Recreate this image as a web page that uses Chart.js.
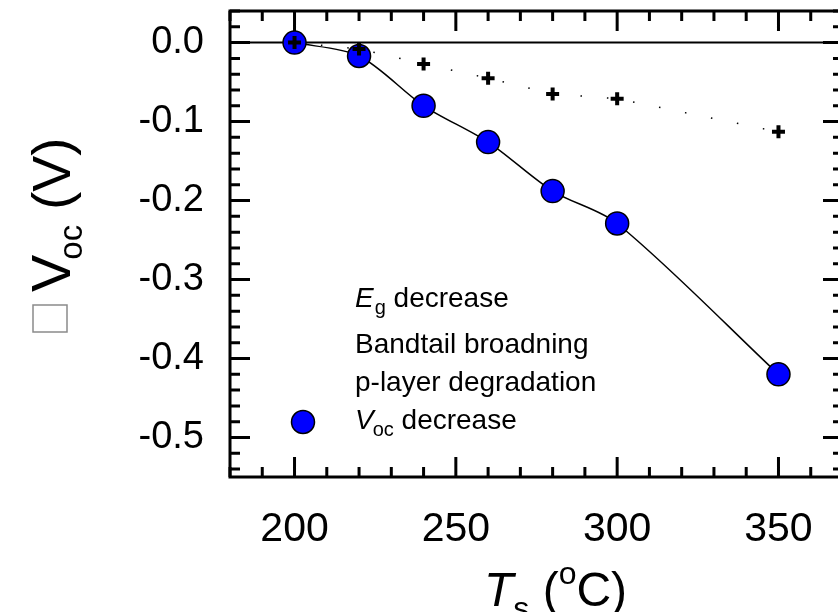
<!DOCTYPE html>
<html>
<head>
<meta charset="utf-8">
<script src="https://cdn.jsdelivr.net/npm/chart.js@4.4.1/dist/chart.umd.min.js"></script>
<style>
  html, body { margin: 0; padding: 0; background: #fff; overflow: hidden; }
  #wrap { width: 850px; height: 612px; }
  canvas { display: block; width: 850px; height: 612px; }
</style>
</head>
<body>
<div id="wrap"><canvas id="myChart" width="850" height="612"></canvas></div>
<script>
// substrate temperature Ts (oC)
const temps = [200, 220, 240, 260, 280, 300, 350];
// delta Voc, blue circles (V)
const vocDecrease = [0.0, -0.017, -0.080, -0.126, -0.188, -0.229, -0.420];
// black crosses on the dotted line (V)
const crossValues = [0.0, -0.008, -0.027, -0.045, -0.065, -0.071, -0.113];

const xTicks = [200, 250, 300, 350];
const yTicks = [0.0, -0.1, -0.2, -0.3, -0.4, -0.5];

const FONT = "'Liberation Sans', Arial, sans-serif";

const pts = (vals) => temps.map((t, i) => ({ x: t, y: vals[i] }));

// draw a row of text pieces, each with its own font and baseline shift
const runs = (ctx, x, y, parts) => {
  parts.forEach((p) => {
    ctx.font = p.font;
    x += p.dx || 0;
    ctx.fillText(p.t, x, y + (p.dy || 0));
    x += ctx.measureText(p.t).width;
  });
};

const frame = {
  id: "frame",
  beforeDatasetsDraw(chart) {
    const { ctx, chartArea: a, scales } = chart;
    const y0 = scales.y.getPixelForValue(0);
    ctx.save();
    ctx.strokeStyle = "#000";
    ctx.lineWidth = 2;
    ctx.beginPath();
    ctx.moveTo(a.left, y0);
    ctx.lineTo(a.right, y0);
    ctx.stroke();
    ctx.restore();
  },
  afterDraw(chart) {
    const { ctx, chartArea: a, scales } = chart;
    const xs = scales.x;
    const ys = scales.y;
    ctx.save();
    ctx.strokeStyle = "#000";
    ctx.lineWidth = 3;
    ctx.lineCap = "butt";
    ctx.beginPath();
    // x ticks every 10, major every 50 (top and bottom, inward)
    for (let v = 180; v <= 370; v += 10) {
      const px = xs.getPixelForValue(v);
      const len = v % 50 === 0 ? 20 : 10;
      ctx.moveTo(px, a.bottom);
      ctx.lineTo(px, a.bottom - len);
      ctx.moveTo(px, a.top);
      ctx.lineTo(px, a.top + len);
    }
    // y ticks every 0.02, major every 0.1 (left and right, inward)
    for (let k = -27; k <= 2; k++) {
      const py = ys.getPixelForValue(k * 0.02);
      const len = k % 5 === 0 ? 20 : 10;
      ctx.moveTo(a.left, py);
      ctx.lineTo(a.left + len, py);
      ctx.moveTo(a.right, py);
      ctx.lineTo(a.right - len, py);
    }
    ctx.stroke();
    ctx.strokeRect(a.left, a.top, a.right - a.left, a.bottom - a.top);

    ctx.fillStyle = "#000";
    ctx.textBaseline = "alphabetic";
    ctx.textAlign = "left";

    // annotation block
    const tx = a.left + 125;
    runs(ctx, tx, 307, [
      { t: "E", font: "italic 28px " + FONT },
      { t: "g", font: "20px " + FONT, dy: 7, dx: 1 },
      { t: " decrease", font: "28px " + FONT },
    ]);
    ctx.font = "28px " + FONT;
    ctx.fillText("Bandtail broadning", tx, 353);
    ctx.fillText("p-layer degradation", tx, 391);
    runs(ctx, tx, 429, [
      { t: "V", font: "italic 28px " + FONT },
      { t: "oc", font: "20px " + FONT, dy: 7, dx: -1 },
      { t: " decrease", font: "28px " + FONT },
    ]);
    // legend marker for the circles
    ctx.beginPath();
    ctx.arc(a.left + 73, 422, 11.5, 0, Math.PI * 2);
    ctx.fillStyle = "#0000ff";
    ctx.fill();
    ctx.lineWidth = 1.5;
    ctx.stroke();

    // x axis title: Ts (oC)
    ctx.fillStyle = "#000";
    runs(ctx, 484, 606, [
      { t: "T", font: "italic 48px " + FONT },
      { t: "s", font: "32px " + FONT, dy: 13, dx: 0 },
      { t: " (", font: "48px " + FONT },
      { t: "o", font: "32px " + FONT, dy: -22 },
      { t: "C)", font: "48px " + FONT },
    ]);

    // y axis title, rotated
    ctx.save();
    ctx.translate(70, 332);
    ctx.rotate(-Math.PI / 2);
    ctx.strokeStyle = "#8a8a8a";
    ctx.lineWidth = 1.5;
    ctx.strokeRect(0, -37, 27, 34);
    runs(ctx, 40, 0, [
      { t: "V", font: "56px " + FONT },
      { t: "oc", font: "33px " + FONT, dy: 12, dx: -5 },
      { t: " (V)", font: "54px " + FONT },
    ]);
    ctx.restore();
    ctx.restore();
  },
};

const init = () => {
  const ctx = document.getElementById("myChart").getContext("2d");
  new Chart(ctx, {
    type: "line",
    data: {
      datasets: [
        {
          label: "crosses",
          data: pts(crossValues),
          showLine: true,
          borderColor: "#000",
          borderWidth: 1.5,
          borderDash: [1.5, 25],
          tension: 0,
          pointStyle: "cross",
          pointRadius: 6.5,
          pointBorderWidth: 4,
          pointBorderColor: "#000",
        },
        {
          label: "Voc decrease",
          data: pts(vocDecrease),
          showLine: true,
          borderColor: "#000",
          borderWidth: 1.5,
          tension: 0.3,
          pointStyle: "circle",
          pointRadius: 11.5,
          pointBackgroundColor: "#0000ff",
          pointBorderColor: "#000",
          pointBorderWidth: 1.5,
        },
      ],
    },
    options: {
      responsive: false,
      animation: false,
      layout: { autoPadding: false, padding: { top: 11, right: 7, bottom: 0, left: 0 } },
      plugins: { legend: { display: false }, tooltip: { enabled: false } },
      scales: {
        x: {
          type: "linear",
          min: 180,
          max: 370,
          grid: { display: false, drawTicks: false },
          border: { display: false },
          ticks: {
            font: { family: FONT, size: 41 },
            color: "#000",
            padding: 28,
            maxRotation: 0,
            callback: (v) => String(v),
          },
          afterBuildTicks: (s) => { s.ticks = xTicks.map((v) => ({ value: v })); },
          afterFit: (s) => { s.height = 135; s.paddingLeft = 0; s.paddingRight = 0; },
        },
        y: {
          type: "linear",
          min: -0.55,
          max: 0.04,
          grid: { display: false, drawTicks: false },
          border: { display: false },
          ticks: {
            font: { family: FONT, size: 38 },
            color: "#000",
            padding: 26,
            callback: (v) => v.toFixed(1),
          },
          afterBuildTicks: (s) => { s.ticks = yTicks.map((v) => ({ value: v })); },
          afterFit: (s) => { s.width = 230; s.paddingTop = 0; s.paddingBottom = 0; },
        },
      },
    },
    plugins: [frame],
  });
};

window.addEventListener("load", init);
</script>
</body>
</html>
